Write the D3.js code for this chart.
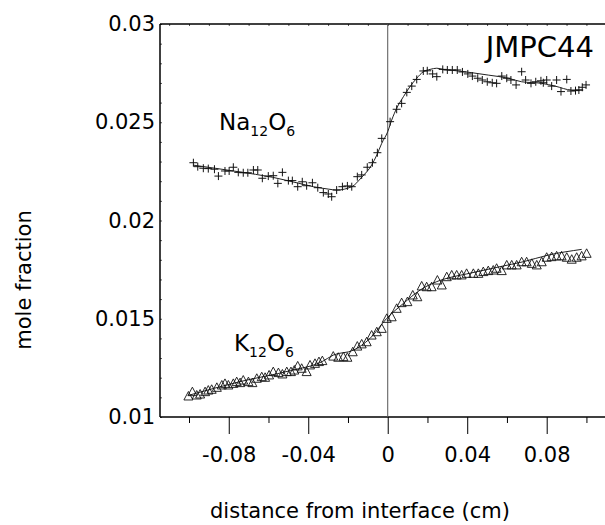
<!DOCTYPE html>
<html>
<head>
<meta charset="utf-8">
<script src="https://cdn.jsdelivr.net/npm/d3@7"></script>
<style>
  body { margin: 0; background: #fff; }
  text { font-family: "DejaVu Sans", sans-serif; fill: #000; }
</style>
</head>
<body>
<div id="chart"></div>
<script>
// measured points, Na12O6 (plus markers)
var naX = [-0.0978, -0.0956, -0.0928, -0.0903, -0.0872, -0.0852, -0.0819, -0.0798, -0.0777, -0.0752,
  -0.0727, -0.0704, -0.0676, -0.0654, -0.0631, -0.0601, -0.0576, -0.0553, -0.0530, -0.0500,
  -0.0480, -0.0453, -0.0430, -0.0408, -0.0379, -0.0352, -0.0324, -0.0299, -0.0282, -0.0257,
  -0.0228, -0.0203, -0.0181, -0.0153, -0.0131, -0.0103, -0.0077, -0.0052, -0.0030, 0.0012,
  0.0045, 0.0070, 0.0096, 0.0121, 0.0146, 0.0179, 0.0199, 0.0226, 0.0247, 0.0277,
  0.0300, 0.0325, 0.0350, 0.0376, 0.0403, 0.0426, 0.0453, 0.0476, 0.0501, 0.0526,
  0.0548, 0.0574, 0.0599, 0.0620, 0.0646, 0.0674, 0.0694, 0.0721, 0.0745, 0.0771,
  0.0783, 0.0800, 0.0825, 0.0850, 0.0872, 0.0901, 0.0922, 0.0945, 0.0962, 0.0979, 0.0998];
var naY = [0.02294, 0.02274, 0.02266, 0.02264, 0.02261, 0.02226, 0.02252, 0.02252, 0.02271, 0.02245,
  0.02243, 0.02243, 0.02257, 0.02257, 0.02215, 0.02226, 0.02228, 0.02189, 0.02245, 0.02203,
  0.02203, 0.02172, 0.02197, 0.02177, 0.02192, 0.02167, 0.02142, 0.02135, 0.02121, 0.02155,
  0.02172, 0.02176, 0.02172, 0.02223, 0.02232, 0.02271, 0.02294, 0.02345, 0.02418, 0.02503,
  0.02566, 0.02596, 0.02652, 0.02684, 0.02718, 0.02761, 0.02762, 0.02746, 0.02732, 0.02769,
  0.02766, 0.02766, 0.02766, 0.02756, 0.02746, 0.02735, 0.02724, 0.02715, 0.02706, 0.02701,
  0.02698, 0.02735, 0.02724, 0.02715, 0.02690, 0.02757, 0.02715, 0.02698, 0.02706, 0.02711,
  0.02701, 0.02715, 0.02684, 0.02715, 0.02656, 0.02718, 0.02659, 0.02661, 0.02664, 0.02678, 0.02690];

// fitted curve, Na12O6
var naFitX = [-0.098, -0.075, -0.058, -0.045, -0.0374, -0.030, -0.0257, -0.0181, -0.0131, -0.0081,
  -0.0055, -0.0030, 0, 0.0020, 0.0045, 0.0079, 0.0112, 0.0146, 0.0179, 0.0213,
  0.0247, 0.0280, 0.0347, 0.0506, 0.0607, 0.0674, 0.0775, 0.0842, 0.0926, 0.0984];
var naFitY = [0.02282, 0.02248, 0.02220, 0.02190, 0.02172, 0.02160, 0.02155, 0.02172, 0.02220, 0.02282,
  0.02333, 0.02393, 0.02452, 0.02511, 0.02571, 0.02630, 0.02681, 0.02724, 0.02757, 0.02769,
  0.02775, 0.02769, 0.02762, 0.02740, 0.02724, 0.02706, 0.02698, 0.02684, 0.02664, 0.02664];

// measured points, K12O6 (triangles)
var kX = [-0.1003, -0.0983, -0.0961, -0.0944, -0.0919, -0.0903, -0.0886, -0.0860, -0.0835, -0.0819,
  -0.0802, -0.0777, -0.0760, -0.0743, -0.0727, -0.0701, -0.0681, -0.0659, -0.0634, -0.0617,
  -0.0597, -0.0576, -0.0550, -0.0530, -0.0508, -0.0487, -0.0470, -0.0453, -0.0433, -0.0408,
  -0.0391, -0.0366, -0.0346, -0.0329, -0.0274, -0.0249, -0.0223, -0.0203, -0.0176, -0.0153,
  -0.0131, -0.0106, -0.0081, -0.0055, -0.0030, -0.0005, 0.0020, 0.0045, 0.0070, 0.0099,
  0.0126, 0.0149, 0.0171, 0.0196, 0.0221, 0.0250, 0.0272, 0.0297, 0.0322, 0.0347,
  0.0372, 0.0397, 0.0431, 0.0456, 0.0481, 0.0506, 0.0531, 0.0548, 0.0574, 0.0599,
  0.0624, 0.0649, 0.0674, 0.0699, 0.0725, 0.0750, 0.0775, 0.0800, 0.0825, 0.0850,
  0.0875, 0.0901, 0.0926, 0.0951, 0.0976, 0.1001];
var kY = [0.01107, 0.01129, 0.01112, 0.01117, 0.01129, 0.01137, 0.01141, 0.01151, 0.01163, 0.01171,
  0.01163, 0.01171, 0.01180, 0.01175, 0.01188, 0.01180, 0.01175, 0.01197, 0.01205, 0.01202,
  0.01214, 0.01231, 0.01226, 0.01219, 0.01231, 0.01231, 0.01239, 0.01260, 0.01248, 0.01231,
  0.01265, 0.01273, 0.01282, 0.01287, 0.01310, 0.01304, 0.01307, 0.01304, 0.01332, 0.01361,
  0.01372, 0.01383, 0.01417, 0.01434, 0.01451, 0.01502, 0.01510, 0.01553, 0.01582, 0.01587,
  0.01621, 0.01612, 0.01667, 0.01663, 0.01663, 0.01697, 0.01672, 0.01714, 0.01723, 0.01723,
  0.01723, 0.01731, 0.01731, 0.01731, 0.01740, 0.01745, 0.01748, 0.01757, 0.01745, 0.01774,
  0.01774, 0.01774, 0.01790, 0.01790, 0.01782, 0.01774, 0.01790, 0.01813, 0.01816, 0.01820,
  0.01820, 0.01813, 0.01803, 0.01813, 0.01820, 0.01833];

// fitted curve, K12O6
var kFitX = [-0.1003, -0.0743, -0.049, -0.033, -0.0274, -0.0173, -0.0089, -0.0005, 0.0079, 0.0163,
  0.0247, 0.0330, 0.0397, 0.0565, 0.0682, 0.0808, 0.0976];
var kFitY = [0.01110, 0.01180, 0.01236, 0.01282, 0.01315, 0.01340, 0.01400, 0.01502, 0.01578, 0.01646,
  0.01689, 0.01714, 0.01728, 0.01765, 0.01790, 0.01824, 0.01853];

// tick values
var xMajor = [-0.08, -0.04, 0, 0.04, 0.08];
var xMinor = [-0.1, -0.06, -0.02, 0.02, 0.06, 0.1];
var yMajor = [0.01, 0.015, 0.02, 0.025, 0.03];

var width = 605, height = 525;
// plot box (right side runs past the picture edge)
var plotLeft = 160, plotRight = 622, plotTop = 24, plotBottom = 417;

var svg = d3.select("#chart")
  .append("svg")
    .attr("width", width)
    .attr("height", height);

var x = d3.scaleLinear()
    .domain([-0.1146, 0.1179])
    .range([plotLeft, plotRight]);

var y = d3.scaleLinear()
    .domain([0.01, 0.03])
    .range([plotBottom, plotTop]);

// plain hyphen for negatives, like the original
function num(d) { return String(+d.toFixed(3)); }

// x axis with long major ticks and short minor ticks
var xAxis = svg.append("g")
    .attr("transform", "translate(0," + plotBottom + ")")
    .call(d3.axisBottom(x).tickValues(xMajor).tickSize(17).tickPadding(13).tickFormat(num));
xAxis.select(".domain").remove();
xAxis.selectAll("text").attr("font-size", 21).attr("font-family", "DejaVu Sans, sans-serif");

svg.append("g")
    .attr("transform", "translate(0," + plotBottom + ")")
    .call(d3.axisBottom(x).tickValues(xMinor).tickSize(6).tickFormat(""))
    .select(".domain").remove();

// y axis labels only, with tiny inner ticks
var yAxis = svg.append("g")
    .attr("transform", "translate(" + plotLeft + ",0)")
    .call(d3.axisLeft(y).tickValues(yMajor).tickSize(0).tickPadding(5).tickFormat(num));
yAxis.select(".domain").remove();
yAxis.selectAll("text").attr("font-size", 21).attr("font-family", "DejaVu Sans, sans-serif");

svg.append("g")
    .attr("transform", "translate(" + plotLeft + ",0)")
    .call(d3.axisRight(y).ticks(20).tickSize(2).tickFormat(""))
    .call(function(g) { g.select(".domain").remove(); g.selectAll("line").attr("stroke", "#555"); });

svg.append("g")
    .attr("transform", "translate(0," + plotTop + ")")
    .call(d3.axisBottom(x).tickValues(d3.range(-0.11, 0.12, 0.01)).tickSize(2).tickFormat(""))
    .call(function(g) { g.select(".domain").remove(); g.selectAll("line").attr("stroke", "#555"); });

// frame lines
svg.append("line")
    .attr("x1", plotLeft).attr("x2", width)
    .attr("y1", plotTop).attr("y2", plotTop)
    .attr("stroke", "#000").attr("stroke-width", 1.5);
svg.append("line")
    .attr("x1", plotLeft).attr("x2", width)
    .attr("y1", plotBottom).attr("y2", plotBottom)
    .attr("stroke", "#000").attr("stroke-width", 1.5);
svg.append("line")
    .attr("x1", plotLeft).attr("x2", plotLeft)
    .attr("y1", plotTop).attr("y2", plotBottom)
    .attr("stroke", "#000").attr("stroke-width", 1.5);

// interface at x = 0
svg.append("line")
    .attr("x1", x(0)).attr("x2", x(0))
    .attr("y1", plotTop).attr("y2", plotBottom)
    .attr("stroke", "#555").attr("stroke-width", 1);

var line = d3.line()
    .x(function(d) { return x(d[0]); })
    .y(function(d) { return y(d[1]); })
    .curve(d3.curveMonotoneX);

// fitted lines
svg.append("path")
    .datum(d3.zip(naFitX, naFitY))
    .attr("fill", "none")
    .attr("stroke", "#222")
    .attr("stroke-width", 1)
    .attr("d", line);

svg.append("path")
    .datum(d3.zip(kFitX, kFitY))
    .attr("fill", "none")
    .attr("stroke", "#222")
    .attr("stroke-width", 1)
    .attr("d", line);

// plus markers
svg.append("g")
  .selectAll("path")
  .data(d3.zip(naX, naY))
  .join("path")
    .attr("transform", function(d) { return "translate(" + x(d[0]) + "," + y(d[1]) + ")"; })
    .attr("d", "M-4,0H4M0,-4V4")
    .attr("stroke", "#111")
    .attr("stroke-width", 1)
    .attr("fill", "none");

// triangle markers
svg.append("g")
  .selectAll("path")
  .data(d3.zip(kX, kY))
  .join("path")
    .attr("transform", function(d) { return "translate(" + x(d[0]) + "," + y(d[1]) + ")"; })
    .attr("d", "M0,-4.5L4.5,4H-4.5Z")
    .attr("stroke", "#111")
    .attr("stroke-width", 0.9)
    .attr("fill", "none");

// series labels with subscripts
function formula(px, py, el, n1, n2) {
  var t = svg.append("text")
      .attr("x", px).attr("y", py)
      .attr("font-size", 23);
  t.append("tspan").text(el);
  t.append("tspan").attr("font-size", 14).attr("dy", 6).text(n1);
  t.append("tspan").attr("dy", -6).text("O");
  t.append("tspan").attr("font-size", 14).attr("dy", 6).text(n2);
}
formula(219, 130, "Na", "12", "6");
formula(234, 351, "K", "12", "6");

svg.append("text")
    .attr("x", 594).attr("y", 57)
    .attr("text-anchor", "end")
    .attr("font-size", 29)
    .text("JMPC44");

// axis titles
svg.append("text")
    .attr("x", 360).attr("y", 518)
    .attr("text-anchor", "middle")
    .attr("font-size", 21)
    .text("distance from interface (cm)");

svg.append("text")
    .attr("transform", "translate(31,280) rotate(-90)")
    .attr("text-anchor", "middle")
    .attr("font-size", 21)
    .text("mole fraction");
</script>
</body>
</html>
